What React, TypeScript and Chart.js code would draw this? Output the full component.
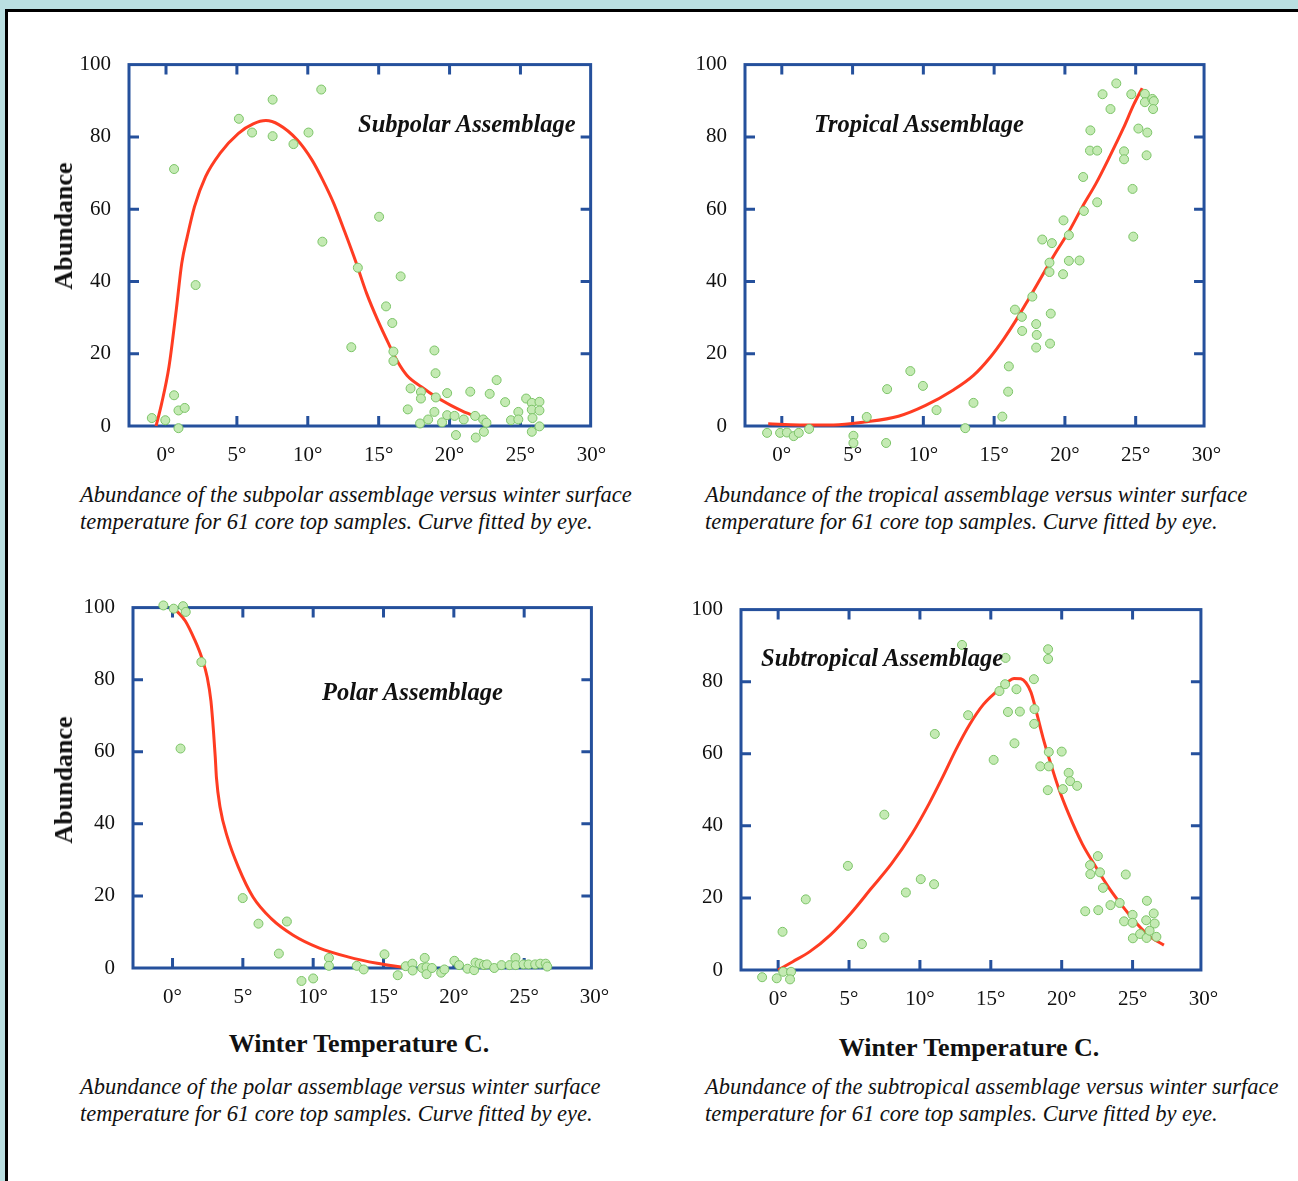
import React, { useEffect, useRef } from "react";
import { Chart, registerables } from "chart.js";

Chart.register(...registerables);

// ---------- tick labels ----------
const xTickValues = [0, 5, 10, 15, 20, 25, 30];
const yTickValues = [0, 20, 40, 60, 80, 100];

// ---------- Subpolar ----------
const subpolarTemp = [-1.0, -0.05, 0.57, 0.57, 0.88, 0.88, 1.32, 2.09, 5.14, 6.07, 7.52, 7.52, 8.99, 10.05, 10.95, 11.03, 13.07, 13.53, 15.03, 15.52, 15.96, 16.04, 16.04, 16.55, 17.05, 17.25, 17.98, 17.98, 17.92, 18.49, 18.93, 18.93, 19.01, 19.03, 19.47, 19.83, 19.83, 20.35, 20.45, 21.0, 21.46, 21.8, 21.85, 22.37, 22.42, 22.6, 22.83, 23.32, 23.92, 24.33, 24.85, 24.85, 25.4, 25.8, 25.8, 25.85, 25.8, 26.34, 26.34, 26.34];
const subpolarAbund = [2.2, 1.6, 71.1, 8.5, 4.3, -0.6, 5.0, 39.0, 85.0, 81.2, 90.3, 80.2, 78.0, 81.2, 93.1, 51.0, 21.8, 43.8, 57.9, 33.1, 28.5, 20.6, 18.0, 41.4, 4.6, 10.4, 9.4, 7.6, 0.7, 1.8, 3.9, 20.9, 14.6, 7.9, 1.0, 9.1, 3.0, 2.8, -2.5, 1.8, 9.5, 2.8, -3.2, 1.8, -1.6, 0.9, 8.9, 12.7, 6.6, 1.6, 3.9, 1.8, 7.6, 6.4, 4.5, 2.2, -1.6, 6.7, 4.3, -0.1];
const subpolarCurveTemp = [-0.7, -0.31, 0.21, 0.72, 1.11, 1.5, 2.01, 2.79, 3.82, 5.11, 6.15, 7.05, 7.95, 9.25, 10.28, 11.05, 11.83, 12.6, 13.38, 14.15, 14.93, 15.7, 16.35, 17.0, 18.03, 19.06, 20.09, 20.87, 21.51];
const subpolarCurveAbund = [0, 6.2, 16.4, 32, 45, 52.4, 60.7, 69, 75.5, 81, 83.6, 84.5, 83.4, 79.2, 73.7, 68.1, 61.6, 53.8, 45.5, 36.7, 29.3, 22.8, 17.7, 14.0, 10.8, 8.0, 5.7, 4.2, 3.1];

// ---------- Tropical ----------
const tropicalTemp = [-1.04, -0.12, 0.36, 0.84, 1.2, 1.93, 5.06, 5.06, 6.0, 7.37, 7.44, 9.08, 9.97, 10.93, 12.96, 13.54, 15.58, 15.99, 16.04, 16.47, 16.96, 16.98, 17.7, 17.97, 18.01, 17.97, 18.4, 18.91, 18.91, 19.0, 18.95, 19.08, 19.9, 19.87, 20.28, 20.28, 21.03, 21.29, 21.34, 21.8, 21.77, 22.28, 22.28, 22.66, 23.22, 23.63, 24.18, 24.18, 24.69, 24.78, 24.83, 25.19, 25.65, 25.65, 25.77, 25.82, 26.18, 26.28, 26.23];
const tropicalAbund = [-1.9, -1.9, -1.8, -2.8, -1.9, -0.8, -2.7, -4.7, 2.5, -4.7, 10.2, 15.2, 11.1, 4.4, -0.6, 6.4, 2.6, 9.5, 16.5, 32.2, 30.2, 26.3, 35.8, 28.2, 25.2, 21.7, 51.6, 45.2, 42.6, 31.1, 22.8, 50.6, 56.9, 42.0, 52.8, 45.7, 45.8, 68.9, 59.5, 81.8, 76.2, 76.2, 61.9, 91.8, 87.7, 94.8, 76.0, 73.8, 91.8, 65.6, 52.4, 82.3, 91.9, 89.6, 74.9, 81.2, 90.5, 89.9, 87.7];
const tropicalCurveTemp = [-0.96, 1.25, 3.66, 5.83, 8.24, 10.16, 12.09, 13.54, 14.74, 15.7, 16.55, 17.39, 18.35, 19.32, 20.28, 21.24, 22.21, 23.17, 24.13, 24.86, 25.46];
const tropicalCurveAbund = [0.6, 0.3, 0.3, 1.1, 2.7, 5.7, 9.9, 14.0, 19.1, 24.2, 29.3, 34.8, 41.3, 47.8, 53.8, 60.7, 67.2, 74.6, 82.4, 88.9, 93.5];

// ---------- Polar ----------
const polarTemp = [-0.65, 0.08, 0.75, 0.94, 0.57, 2.05, 4.99, 6.11, 7.56, 8.13, 9.17, 10.0, 11.12, 11.12, 13.1, 13.59, 15.07, 16.01, 16.58, 17.05, 17.07, 17.75, 17.93, 18.06, 18.06, 18.45, 19.1, 19.33, 20.04, 20.37, 20.97, 21.44, 21.54, 21.83, 22.14, 22.35, 22.87, 23.39, 23.96, 24.38, 24.4, 24.95, 25.31, 25.78, 26.14, 26.53, 26.64];
const polarAbund = [100.6, 99.7, 100.4, 98.8, 60.9, 84.9, 19.4, 12.3, 4.0, 12.9, -3.6, -2.9, 2.8, 0.6, 0.6, -0.4, 3.8, -2.0, 0.5, 1.2, -0.7, 0.0, 2.8, 0.2, -1.7, 0.0, -1.3, -0.4, 2.0, 0.8, -0.2, -0.6, 1.5, 1.2, 0.8, 1.0, 0.0, 0.8, 0.8, 2.8, 0.8, 1.0, 1.0, 1.0, 1.2, 1.2, 0.4];
const polarCurveTemp = [0.26, 0.91, 1.56, 2.08, 2.47, 2.73, 2.91, 3.04, 3.12, 3.38, 3.9, 4.68, 5.72, 7.02, 8.58, 10.4, 12.47, 14.55, 16.37];
const polarCurveAbund = [99.2, 96.3, 91.2, 86.1, 80.6, 74.1, 65.8, 58.4, 52.9, 44.6, 36.3, 28.0, 19.7, 13.7, 9.1, 5.6, 3.1, 1.3, 0.2];

// ---------- Subtropical ----------
const subtropicalTemp = [-1.13, -0.1, 0.36, 0.91, 0.84, 0.31, 1.95, 4.92, 5.91, 7.49, 7.49, 9.01, 10.06, 11.0, 11.05, 12.97, 13.4, 15.2, 15.61, 16.01, 16.04, 16.21, 16.67, 16.81, 17.05, 18.04, 18.08, 18.06, 18.49, 19.04, 19.04, 19.09, 19.09, 19.02, 20.0, 20.08, 20.49, 20.6, 21.09, 21.66, 22.0, 22.02, 22.55, 22.58, 22.7, 22.91, 23.44, 24.09, 24.4, 24.52, 25.0, 25.0, 25.02, 25.53, 25.96, 26.01, 25.99, 26.2, 26.49, 26.56, 26.68];
const subtropicalAbund = [-2.0, -2.3, -0.5, -0.5, -2.6, 10.6, 19.6, 28.9, 7.2, 43.1, 9.0, 21.5, 25.2, 23.8, 65.5, 90.2, 70.7, 58.3, 77.4, 79.3, 86.6, 71.6, 62.9, 77.9, 71.7, 80.7, 72.4, 68.3, 56.5, 89.0, 86.3, 60.5, 56.5, 49.9, 60.6, 50.2, 54.7, 52.4, 51.1, 16.3, 29.1, 26.6, 31.6, 16.6, 27.1, 22.8, 18.0, 18.6, 13.5, 26.5, 15.3, 13.1, 8.8, 10.0, 13.8, 19.2, 8.9, 10.9, 15.7, 12.9, 9.2];
const subtropicalCurveTemp = [0, 1.03, 2.23, 3.67, 5.12, 6.56, 8.0, 9.44, 10.64, 11.6, 12.56, 13.52, 14.48, 15.44, 16.16, 16.64, 17.12, 17.48, 17.84, 18.08, 18.32, 18.68, 19.16, 19.76, 20.49, 21.45, 22.41, 23.37, 24.33, 25.29, 26.25, 27.21];
const subtropicalCurveAbund = [0, 2.3, 5.1, 9.7, 15.7, 22.6, 29.5, 37.8, 46.1, 53.5, 61.3, 68.2, 73.7, 77.4, 79.8, 80.9, 80.8, 79.7, 77.0, 73.7, 70.0, 64.5, 58.1, 50.7, 43.3, 35.0, 28.6, 22.6, 17.5, 12.9, 9.2, 6.9];

// ---------- text ----------
const titles = ["Subpolar Assemblage", "Tropical Assemblage", "Polar Assemblage", "Subtropical Assemblage"];
const captions = [
  ["Abundance of the subpolar assemblage versus winter surface", "temperature for 61 core top samples. Curve fitted by eye."],
  ["Abundance of the tropical assemblage versus winter surface", "temperature for 61 core top samples. Curve fitted by eye."],
  ["Abundance of the polar assemblage versus winter surface", "temperature for 61 core top samples. Curve fitted by eye."],
  ["Abundance of the subtropical assemblage versus winter surface", "temperature for 61 core top samples. Curve fitted by eye."],
];
const yAxisTitle = "Abundance";
const xAxisTitle = "Winter Temperature C.";

const SERIF = '"Liberation Serif", "Times New Roman", Times, serif';
const BOX_COLOR = "#25509c";
const DOT_FILL = "#c4eab3";
const DOT_EDGE = "#7cc468";
const CURVE_COLOR = "#ff3c22";

const PAD_L = 100;
const PAD_T = 30;
const PAD_R = 30;
const PAD_B = 52;

const boxPlugin = {
  id: "boxTicks",
  beforeDatasetsDraw(chart: any) {
    const { ctx, chartArea: a, scales } = chart;
    const xs = scales.x;
    const ys = scales.y;
    ctx.save();
    ctx.strokeStyle = BOX_COLOR;
    ctx.lineWidth = 3;
    ctx.strokeRect(a.left, a.top, a.right - a.left, a.bottom - a.top);
    ctx.beginPath();
    for (const v of xTickValues) {
      const px = xs.getPixelForValue(v);
      if (px <= a.left + 3 || px >= a.right - 3) continue;
      ctx.moveTo(px, a.bottom);
      ctx.lineTo(px, a.bottom - 10);
      ctx.moveTo(px, a.top);
      ctx.lineTo(px, a.top + 10);
    }
    for (const v of yTickValues) {
      const py = ys.getPixelForValue(v);
      if (py <= a.top + 3 || py >= a.bottom - 3) continue;
      ctx.moveTo(a.left, py);
      ctx.lineTo(a.left + 10, py);
      ctx.moveTo(a.right, py);
      ctx.lineTo(a.right - 10, py);
    }
    ctx.stroke();
    ctx.restore();
  },
  // let samples that sit just outside the frame (below zero) still be drawn
  beforeDatasetDraw(chart: any) {
    const a = chart.chartArea;
    chart.$savedArea = a;
    chart.chartArea = {
      left: a.left - 40,
      right: a.right + 40,
      top: a.top - 40,
      bottom: a.bottom + 40,
      width: a.width + 80,
      height: a.height + 80,
    };
  },
  afterDatasetDraw(chart: any) {
    if (chart.$savedArea) chart.chartArea = chart.$savedArea;
  },
};

type PanelProps = {
  box: { left: number; right: number; top: number; bottom: number };
  xMin: number;
  xMax: number;
  temps: number[];
  abund: number[];
  curveT: number[];
  curveA: number[];
};

function Panel({ box, xMin, xMax, temps, abund, curveT, curveA }: PanelProps) {
  const ref = useRef<HTMLCanvasElement | null>(null);
  const w = box.right - box.left + PAD_L + PAD_R;
  const h = box.bottom - box.top + PAD_T + PAD_B;
  useEffect(() => {
    if (!ref.current) return;
    const chart = new Chart(ref.current, {
      type: "scatter",
      data: {
        datasets: [
          {
            type: "scatter",
            data: temps.map((t, i) => ({ x: t, y: abund[i] })),
            pointRadius: 4.5,
            pointBorderWidth: 1,
            backgroundColor: DOT_FILL,
            borderColor: DOT_EDGE,
            clip: false,
          } as any,
          {
            type: "line",
            data: curveT.map((t, i) => ({ x: t, y: curveA[i] })),
            borderColor: CURVE_COLOR,
            borderWidth: 3,
            pointRadius: 0,
            cubicInterpolationMode: "monotone",
            fill: false,
            clip: false,
          } as any,
        ],
      },
      options: {
        responsive: false,
        maintainAspectRatio: false,
        animation: false,
        events: [],
        layout: { padding: { left: 0, top: PAD_T, right: PAD_R, bottom: 0 } },
        plugins: { legend: { display: false }, tooltip: { enabled: false }, title: { display: false } },
        scales: {
          x: {
            type: "linear",
            min: xMin,
            max: xMax,
            grid: { display: false, drawTicks: false },
            border: { display: false },
            afterBuildTicks: (s: any) => {
              s.ticks = xTickValues.map((v) => ({ value: v }));
            },
            afterFit: (s: any) => {
              s.height = PAD_B;
            },
            ticks: {
              autoSkip: false,
              maxRotation: 0,
              padding: 17,
              color: "#111",
              font: { family: SERIF, size: 21 },
              callback: (v: any) => `${v}°`,
            },
          },
          y: {
            type: "linear",
            min: 0,
            max: 100,
            grid: { display: false, drawTicks: false },
            border: { display: false },
            afterBuildTicks: (s: any) => {
              s.ticks = yTickValues.map((v) => ({ value: v }));
            },
            afterFit: (s: any) => {
              s.width = PAD_L;
            },
            ticks: {
              autoSkip: false,
              padding: 18,
              color: "#111",
              font: { family: SERIF, size: 21 },
            },
          },
        },
      } as any,
      plugins: [boxPlugin],
    });
    return () => chart.destroy();
  }, []);
  return (
    <canvas
      ref={ref}
      width={w}
      height={h}
      style={{ position: "absolute", left: box.left - PAD_L, top: box.top - PAD_T, width: w, height: h }}
    />
  );
}

function Txt({ left, top, style, children }: any) {
  return (
    <div
      style={{
        position: "absolute",
        left,
        top,
        fontFamily: SERIF,
        color: "#111",
        whiteSpace: "nowrap",
        lineHeight: 1,
        ...style,
      }}
    >
      {children}
    </div>
  );
}

function Caption({ left, top, lines }: any) {
  return (
    <div
      style={{
        position: "absolute",
        left,
        top,
        fontFamily: SERIF,
        fontStyle: "italic",
        fontSize: 22.5,
        lineHeight: "27px",
        color: "#111",
        whiteSpace: "nowrap",
      }}
    >
      {lines.map((l: string, i: number) => (
        <div key={i}>{l}</div>
      ))}
    </div>
  );
}

export default function App() {
  const titleStyle = { fontWeight: "bold", fontStyle: "italic", fontSize: 24.5 };
  const axisStyle = { fontWeight: "bold", fontSize: 26 };
  return (
    <div
      style={{
        position: "absolute",
        left: 0,
        top: 0,
        width: 1298,
        height: 1181,
        background: "#badfe1",
        overflow: "hidden",
      }}
    >
      <div
        style={{
          position: "absolute",
          left: 5,
          top: 9,
          width: 1400,
          height: 1300,
          background: "#ffffff",
          borderLeft: "3px solid #000",
          borderTop: "3px solid #000",
        }}
      />
      <Panel box={{ left: 129, right: 593, top: 64, bottom: 426 }} xMin={-2.61} xMax={29.95} temps={subpolarTemp} abund={subpolarAbund} curveT={subpolarCurveTemp} curveA={subpolarCurveAbund} />
      <Panel box={{ left: 745, right: 1208, top: 64, bottom: 426 }} xMin={-2.6} xMax={29.83} temps={tropicalTemp} abund={tropicalAbund} curveT={tropicalCurveTemp} curveA={tropicalCurveAbund} />
      <Panel box={{ left: 133, right: 596, top: 607, bottom: 968 }} xMin={-2.81} xMax={29.78} temps={polarTemp} abund={polarAbund} curveT={polarCurveTemp} curveA={polarCurveAbund} />
      <Panel box={{ left: 741, right: 1205, top: 609, bottom: 970 }} xMin={-2.62} xMax={29.82} temps={subtropicalTemp} abund={subtropicalAbund} curveT={subtropicalCurveTemp} curveA={subtropicalCurveAbund} />

      <Txt left={358} top={112} style={titleStyle}>{titles[0]}</Txt>
      <Txt left={814} top={112} style={titleStyle}>{titles[1]}</Txt>
      <Txt left={322} top={680} style={titleStyle}>{titles[2]}</Txt>
      <Txt left={761} top={646} style={titleStyle}>{titles[3]}</Txt>

      <Txt left={64} top={226} style={{ ...axisStyle, transform: "translate(-50%, -50%) rotate(-90deg)" }}>{yAxisTitle}</Txt>
      <Txt left={64} top={780} style={{ ...axisStyle, transform: "translate(-50%, -50%) rotate(-90deg)" }}>{yAxisTitle}</Txt>

      <Txt left={359} top={1031} style={{ ...axisStyle, transform: "translateX(-50%)" }}>{xAxisTitle}</Txt>
      <Txt left={969} top={1035} style={{ ...axisStyle, transform: "translateX(-50%)" }}>{xAxisTitle}</Txt>

      <Caption left={80} top={481} lines={captions[0]} />
      <Caption left={705} top={481} lines={captions[1]} />
      <Caption left={80} top={1073} lines={captions[2]} />
      <Caption left={705} top={1073} lines={captions[3]} />
    </div>
  );
}
